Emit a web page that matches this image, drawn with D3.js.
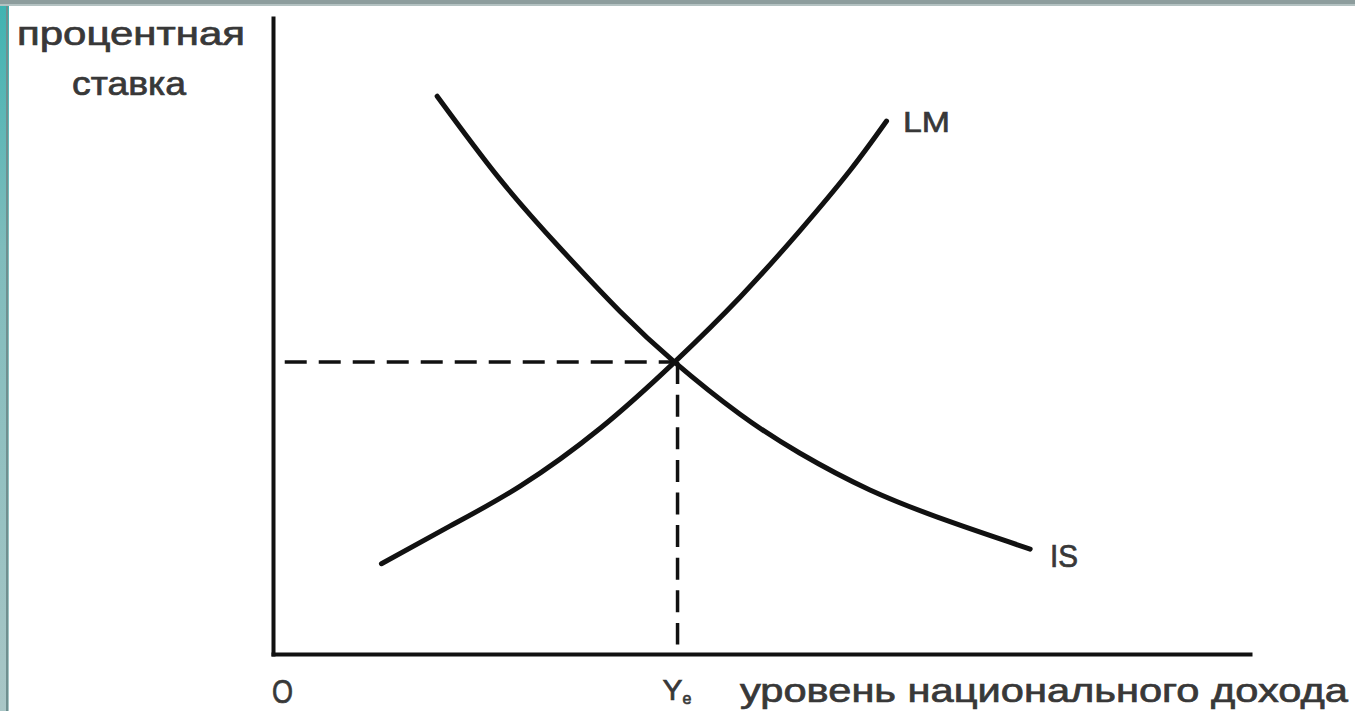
<!DOCTYPE html>
<html>
<head>
<meta charset="utf-8">
<script src="https://cdn.jsdelivr.net/npm/d3@7"></script>
<style>
  html, body { margin: 0; padding: 0; background: #fff; }
  svg { display: block; }
  text { font-family: "Liberation Sans", Arial, sans-serif; fill: #383838; stroke: #383838; stroke-width: 0.7px; }
</style>
</head>
<body>
<div id="chart"></div>
<script>
// IS-LM model, values in arbitrary units (0..100 on both axes)
const isX = [16.8, 23.2, 29.4, 35.5, 41.1, 47.8, 53.9, 61.1, 69.3, 77.5];
const isY = [87.7, 74.7, 63.8, 53.9, 45.9, 37.7, 31.6, 25.8, 20.8, 16.5];
const lmX = [11.1, 18.1, 25.3, 33.5, 41.1, 47.8, 53.9, 59.1, 62.8];
const lmY = [14.2, 20.1, 26.4, 35.5, 45.9, 56.1, 66.5, 76.1, 83.8];
const eqX = 41.1, eqY = 45.9;
const yLabel = ['процентная', 'ставка'];
const xLabel = 'уровень национального дохода';

const W = 1355, H = 711;
const svg = d3.select('#chart').append('svg')
    .attr('width', W)
    .attr('height', H);

// frame edges of the original screenshot
const grad = svg.append('defs').append('linearGradient')
    .attr('id', 'edge').attr('x1', 0).attr('y1', 0).attr('x2', 0).attr('y2', 1);
grad.append('stop').attr('offset', '0%').attr('stop-color', '#3fb3b1');
grad.append('stop').attr('offset', '35%').attr('stop-color', '#7fbcbc');
grad.append('stop').attr('offset', '100%').attr('stop-color', '#a9c6c6');
svg.append('rect').attr('x', 0).attr('y', 0).attr('width', 9).attr('height', H).attr('fill', 'url(#edge)');
svg.append('rect').attr('x', 6).attr('y', 0).attr('width', 2).attr('height', H).attr('fill', '#6f8f8f');
svg.append('rect').attr('x', 0).attr('y', 0).attr('width', W).attr('height', 6).attr('fill', '#8d9d9d');
svg.append('rect').attr('x', 0).attr('y', 4).attr('width', W).attr('height', 2).attr('fill', '#b4c2c2');

const x = d3.scaleLinear().domain([0, 100]).range([273, 1250]);
const y = d3.scaleLinear().domain([0, 100]).range([654, 18]);

// axes: plain lines, no ticks
const xAxis = svg.append('g')
    .attr('transform', `translate(0,${y(0)})`)
    .call(d3.axisBottom(x).ticks(0).tickSizeOuter(0));
const yAxis = svg.append('g')
    .attr('transform', `translate(${x(0)},0)`)
    .call(d3.axisLeft(y).ticks(0).tickSizeOuter(0));
[xAxis, yAxis].forEach(a => a.select('.domain')
    .attr('stroke', '#111').attr('stroke-width', 4).attr('stroke-linecap', 'square'));

// dashed guides to the equilibrium
svg.append('line')
    .attr('x1', x(1.2)).attr('x2', x(eqX))
    .attr('y1', y(eqY)).attr('y2', y(eqY))
    .attr('stroke', '#111').attr('stroke-width', 3.5)
    .attr('stroke-dasharray', '22,12');
svg.append('line')
    .attr('x1', x(eqX) + 3).attr('x2', x(eqX) + 3)
    .attr('y1', y(eqY)).attr('y2', y(1.5))
    .attr('stroke', '#111').attr('stroke-width', 3.5)
    .attr('stroke-dasharray', '22,10.6');

const line = d3.line()
    .x(d => x(d[0]))
    .y(d => y(d[1]))
    .curve(d3.curveNatural);

svg.append('path')
    .datum(isX.map((v, i) => [v, isY[i]]))
    .attr('d', line)
    .attr('fill', 'none').attr('stroke', '#111').attr('stroke-width', 5)
    .attr('stroke-linecap', 'round');
svg.append('path')
    .datum(lmX.map((v, i) => [v, lmY[i]]))
    .attr('d', line)
    .attr('fill', 'none').attr('stroke', '#111').attr('stroke-width', 5)
    .attr('stroke-linecap', 'round');

// curve labels
svg.append('text')
    .attr('x', 903).attr('y', 132)
    .attr('textLength', 47).attr('lengthAdjust', 'spacingAndGlyphs')
    .style('font-size', '30px')
    .text('LM');
svg.append('text')
    .attr('x', 1050).attr('y', 567)
    .attr('textLength', 28).attr('lengthAdjust', 'spacingAndGlyphs')
    .style('font-size', '31px')
    .text('IS');

// axis titles
svg.append('text')
    .attr('x', 17).attr('y', 45)
    .attr('textLength', 228).attr('lengthAdjust', 'spacingAndGlyphs')
    .style('font-size', '33px')
    .text(yLabel[0]);
svg.append('text')
    .attr('x', 72).attr('y', 95)
    .attr('textLength', 114).attr('lengthAdjust', 'spacingAndGlyphs')
    .style('font-size', '33px')
    .text(yLabel[1]);

svg.append('text')
    .attr('x', 272).attr('y', 703)
    .attr('textLength', 21).attr('lengthAdjust', 'spacingAndGlyphs')
    .style('font-size', '33px')
    .text('O');

const ye = svg.append('text')
    .attr('x', x(eqX) - 12).attr('y', 700)
    .style('font-size', '30px');
ye.append('tspan').text('Y');
ye.append('tspan').attr('dy', 4).style('font-size', '16px').text('e');

svg.append('text')
    .attr('x', 740).attr('y', 702)
    .attr('textLength', 608).attr('lengthAdjust', 'spacingAndGlyphs')
    .style('font-size', '33px')
    .text(xLabel);
</script>
</body>
</html>
